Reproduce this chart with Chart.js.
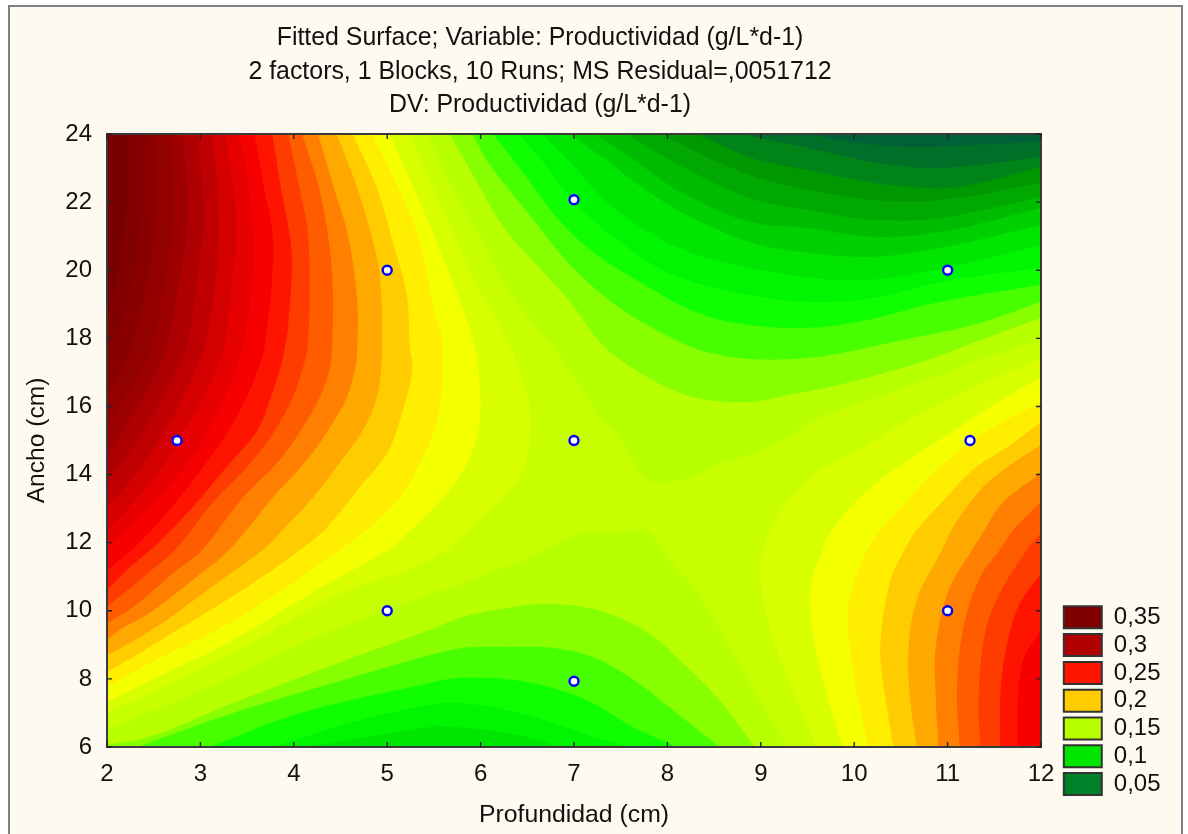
<!DOCTYPE html>
<html>
<head>
<meta charset="utf-8">
<title>Fitted Surface</title>
<script src="https://cdn.jsdelivr.net/npm/chart.js@4/dist/chart.umd.min.js"></script>
<style>
  html, body { margin: 0; padding: 0; background: #fff; overflow: hidden; }
  #frame { position: absolute; left: 8px; top: 5px; width: 1171px; height: 829px; background: #fffaf0;
           border-left: 2px solid #808080; border-top: 2px solid #808080; border-right: 2px solid #808080; }
  #chartOne { position: absolute; left: 0; top: 0; }
</style>
</head>
<body>
<div id="frame"></div>
<canvas id="chartOne" width="1188" height="834"></canvas>
<script>
const titleLines = [
  "Fitted Surface; Variable: Productividad (g/L*d-1)",
  "2 factors, 1 Blocks, 10 Runs; MS Residual=,0051712",
  "DV: Productividad (g/L*d-1)"
];
const xAxisTitle = "Profundidad (cm)";
const yAxisTitle = "Ancho (cm)";
const xTicks = [2, 3, 4, 5, 6, 7, 8, 9, 10, 11, 12];
const yTicks = [6, 8, 10, 12, 14, 16, 18, 20, 22, 24];

const legendLabels = ["0,35", "0,3", "0,25", "0,2", "0,15", "0,1", "0,05"];
const legendColors = ["#800000", "#b00000", "#ff1400", "#ffcc00", "#b8ff00", "#00e600", "#008028"];

// design points (Profundidad, Ancho)
const runsX = [2.75, 5, 5, 7, 7, 7, 11, 11, 11.24];
const runsY = [15, 10, 20, 7.93, 15, 22.07, 10, 20, 15];

// colour of the saddle band, the rest are painted on top of it
const saddleColor = "#c8ff00";
const highColors = ["#d8ff00", "#f4ff00", "#ffee00", "#ffcc00", "#ffa800", "#ff8000", "#ff5c00", "#ff3c00", "#ff1400",
  "#f60000", "#e60000", "#d40000", "#c00000", "#ae0000", "#9c0000", "#920000", "#8a0000", "#820000", "#780000"];
const lowColors = ["#b8ff00", "#88ff00", "#48ff00", "#10ff00", "#00f600", "#00e600", "#00d000", "#00bc00", "#00a800",
  "#009800", "#008418", "#007028", "#006038"];

// contour lines, [Profundidad, Ancho]
// top left hill, level 0,16 up to 0,34
const hl16 = [[5.24,24],[5.35,23.30],[5.67,21.33],[5.96,19.57],[6.31,17.80],[6.51,16.19],[6.53,15.40],[6.50,14.52],[6.35,13.64],[5.99,12.67],[5.46,11.49],[4.42,10.41],[3.35,8.76],[2,7]];
const hl17 = [[5.03,24],[5.35,22],[5.60,20.36],[5.92,17.95],[5.99,16.69],[5.99,15.60],[5.89,14.52],[5.67,13.55],[5.35,12.61],[5.14,12.08],[5.01,11.79],[4.25,10.61],[3.35,9.14],[2.64,8.17],[2,7.32]];
const hl18 = [[4.84,24],[5.14,22.30],[5.35,20.83],[5.49,18.98],[5.59,17.95],[5.59,16.69],[5.53,15.51],[5.35,14.34],[5.14,13.34],[4.78,12.37],[4.49,11.79],[3.93,10.70],[3.18,9.44],[2.46,8.47],[2,7.76]];
const hl19 = [[4.63,24],[4.89,22.41],[5.06,20.83],[5.21,19.28],[5.24,17.80],[5.27,17.07],[5.16,15.81],[5.00,14.63],[4.71,13.64],[4.36,12.46],[4.07,11.79],[3.50,10.70],[2.81,9.53],[2.35,8.76],[2,8.20]];
const hl20 = [[4.46,24],[4.68,22.41],[4.89,20.36],[4.94,19.07],[4.94,17.28],[4.89,16.28],[4.74,15.31],[4.49,14.34],[4.21,13.34],[3.88,12.37],[3.67,11.79],[3.18,10.82],[2.64,9.73],[2.25,9.06],[2,8.70]];
const hl21 = [[4.26,24],[4.42,22.50],[4.58,21.03],[4.68,19.07],[4.68,17.80],[4.66,17.16],[4.57,16.28],[4.39,15.40],[4.14,14.43],[3.78,13.34],[3.31,11.79],[2.92,10.91],[2.46,9.94],[2.14,9.44],[2,9.14]];
const hl22 = [[4.09,24],[4.28,22.30],[4.39,20.54],[4.42,19.18],[4.41,17.80],[4.39,17.16],[4.28,16.28],[4.10,15.40],[3.82,14.34],[3.46,13.34],[3.02,11.79],[2.71,11.11],[2.28,10.11],[2,9.64]];
const hl23 = [[3.94,24],[4.07,22.30],[4.15,21.12],[4.17,19.57],[4.15,17.80],[4.10,17.16],[3.99,16.28],[3.78,15.22],[3.50,14.22],[3.13,13.17],[2.73,11.79],[2.39,11.0],[2,10.11]];
const hl24 = [[3.77,24],[3.87,22.30],[3.96,20.95],[3.98,20.07],[3.94,18.39],[3.91,17.80],[3.87,17.28],[3.78,16.48],[3.61,15.31],[3.28,14.22],[2.92,13.05],[2.47,11.79],[2.25,11.29],[2,10.61]];
const hl25 = [[3.58,24],[3.67,22.59],[3.77,21.12],[3.77,19.86],[3.69,17.80],[3.64,17.28],[3.53,16.48],[3.35,15.51],[3.03,14.22],[2.67,12.96],[2.27,11.79],[2,11.20]];
const hl26 = [[3.42,24],[3.51,22.59],[3.56,21.24],[3.56,19.86],[3.46,17.80],[3.40,17.28],[3.30,16.48],[3.10,15.40],[2.86,14.34],[2.49,13.17],[2,11.87]];
const hl27 = [[3.27,24],[3.34,22.59],[3.39,21.33],[3.35,19.95],[3.26,17.80],[3.18,17.16],[3.03,16.28],[2.81,15.22],[2.57,14.13],[2.28,13.17],[2,12.37]];
const hl28 = [[3.12,24],[3.18,22.59],[3.20,21.33],[3.18,20.07],[3.05,17.80],[2.96,17.16],[2.81,16.28],[2.60,15.22],[2.32,14.05],[2,13.05]];
const hl29 = [[2.96,24],[3.02,22.59],[3.03,21.24],[2.97,19.86],[2.86,17.80],[2.75,17.16],[2.57,16.19],[2.35,15.10],[2,13.75]];
const hl30 = [[2.81,24],[2.86,22.41],[2.85,21.12],[2.78,19.86],[2.65,17.80],[2.54,17.07],[2.32,15.98],[2,14.52]];
const hl31 = [[2.67,24],[2.71,22.50],[2.70,21.33],[2.62,19.77],[2.48,17.80],[2.32,16.87],[2.14,16.10],[2,15.40]];
const hl32 = [[2.51,24],[2.54,22.59],[2.51,21.24],[2.44,19.77],[2.27,17.80],[2.11,16.87],[2,16.28]];
const hl33 = [[2.37,24],[2.39,22.59],[2.35,21.12],[2.25,19.36],[2.06,17.80],[2,17.36]];
const hl34 = [[2.22,24],[2.22,22.59],[2.17,20.83],[2,18.39]];

// bottom right hill, level 0,16 up to 0,25
const hr16 = [[12,17.42],[10.92,16.10],[10.09,14.81],[9.60,14.05],[9.24,13.05],[9.02,11.79],[8.99,11.0],[9.10,9.44],[9.31,7.88],[9.60,6]];
const hr17 = [[12,16.87],[11.45,15.98],[10.92,15.02],[10.38,14.05],[10.03,13.25],[9.71,12.17],[9.66,11.79],[9.53,10.70],[9.55,9.44],[9.67,7.88],[9.88,6]];
const hr18 = [[12,16.13],[11.38,15.22],[10.92,14.22],[10.57,13.25],[10.28,12.37],[10.14,11.79],[9.98,10.70],[9.93,9.73],[10.01,7.88],[10.15,6]];
const hr19 = [[12,15.54],[11.64,14.81],[11.27,14.14],[10.99,13.34],[10.67,12.37],[10.54,11.79],[10.38,10.82],[10.28,9.06],[10.31,7.88],[10.42,6]];
const hr20 = [[12,14.87],[11.64,14.22],[11.35,13.55],[11.06,12.46],[10.94,11.79],[10.67,10.32],[10.58,8.85],[10.60,7.38],[10.67,6]];
const hr21 = [[12,14.05],[11.59,13.17],[11.35,12.17],[11.26,11.79],[11.00,10.52],[10.87,8.85],[10.87,7.68],[10.90,6]];
const hr22 = [[12,13.20],[11.70,12.37],[11.56,11.79],[11.35,11.0],[11.17,9.53],[11.10,7.68],[11.13,6]];
const hr23 = [[12,12.29],[11.85,11.79],[11.56,10.52],[11.40,9.35],[11.33,7.38],[11.35,6]];
const hr24 = [[12,11.11],[11.74,10.02],[11.58,8.06],[11.56,6]];
const hr25 = [[12,9.44],[11.81,8.56],[11.75,7.29],[11.75,6]];

// top right hollow, level 0,15 down to 0,03
const tr15 = [[5.43,24],[5.67,22.59],[5.96,21.12],[6.35,19.18],[6.76,17.80],[6.96,16.98],[7.14,16.28],[7.28,15.69],[7.49,15.10],[7.79,13.84],[8.32,13.96],[8.46,14.22],[8.88,14.58],[9.24,15.02],[9.63,15.66],[10.49,16.48],[11.27,17.28],[12,17.95]];
const tr14 = [[5.67,24],[5.96,22.59],[6.23,21.33],[6.60,20.15],[6.96,19.07],[7.31,17.80],[7.78,16.87],[8.27,16.28],[8.88,16.13],[9.31,16.34],[9.92,16.69],[10.78,17.36],[11.35,17.95],[12,18.60]];
const tr13 = [[5.91,24],[6.10,23.09],[6.50,21.71],[6.96,20.15],[7.35,19.18],[7.78,18.39],[8.21,17.80],[8.42,17.60],[8.88,17.39],[9.50,17.42],[10.03,17.66],[10.52,17.95],[11.27,18.39],[12,19.07]];
const tr12 = [[6.13,24],[6.42,23.0],[6.82,21.53],[7.20,20.54],[7.81,19.48],[8.38,18.69],[8.88,18.39],[9.42,18.30],[10.03,18.48],[10.92,19.07],[12,19.57]];
const tr11 = [[6.40,24],[6.67,23.18],[7.03,21.92],[7.49,20.83],[8.06,19.86],[8.88,19.27],[9.50,19.07],[10.20,19.18],[10.92,19.65],[12,20.07]];
const tr10 = [[6.66,24],[6.96,23.18],[7.35,22],[7.85,21.03],[8.32,20.45],[8.88,20.07],[9.31,19.86],[9.85,19.71],[10.38,19.77],[10.99,20.07],[12,20.74]];
const tr09 = [[6.96,24],[7.31,23.30],[7.74,22.41],[8.21,21.62],[8.88,20.83],[9.50,20.51],[10.20,20.39],[10.92,20.65],[12,21.33]];
const tr08 = [[7.23,24],[7.67,23.18],[8.14,22.30],[8.88,21.42],[9.50,21.24],[10.20,20.98],[10.92,21.12],[12,21.83]];
const tr07 = [[7.57,24],[8.06,23.18],[8.88,22.12],[9.50,21.77],[10.20,21.48],[10.92,21.53],[12,22.15]];
const tr06 = [[7.95,24],[8.38,23.38],[8.88,22.80],[9.50,22.36],[10.20,22.06],[10.92,22.06],[12,22.56]];
const tr05 = [[8.32,24],[8.88,23.32],[9.50,22.94],[10.38,22.50],[11.10,22.44],[12,23.03]];
const tr04 = [[8.78,24],[9.50,23.59],[10.20,23.18],[10.92,23.0],[12,23.32]];
const tr03 = [[9.50,24],[10.03,23.74],[10.57,23.62],[11.27,23.68],[12,23.77]];

// bottom hollow, level 0,15 down to 0,10
const bt15 = [[2,6.50],[3.18,7.88],[4.42,9.44],[5.46,10.47],[6.45,11.49],[6.67,11.79],[7.14,12.31],[7.49,12.29],[7.79,12.37],[7.94,11.79],[8.32,10.52],[8.78,8.41],[8.92,7.68],[9.28,6]];
const bt14 = [[2,6.06],[2.46,6.30],[3.35,7.29],[4.42,8.41],[5.46,9.44],[5.81,9.82],[6.35,10.11],[6.78,10.20],[7.25,10.02],[7.78,9.38],[8.21,8.35],[8.56,7.38],[8.78,6.59],[8.94,6]];
const bt13 = [[2.32,6],[3.35,7],[4.42,7.88],[5.46,8.70],[5.81,8.91],[6.31,8.94],[6.78,8.91],[7.20,8.64],[7.67,7.91],[8.10,7],[8.56,6]];
const bt12 = [[3.10,6],[4.07,7],[5.46,7.88],[5.78,8.03],[6.35,7.97],[6.78,7.73],[7.20,7.29],[7.63,6.59],[8.11,6]];
const bt11 = [[3.78,6],[4.60,6.71],[5.46,7.24],[5.78,7.29],[6.28,7.09],[6.78,6.71],[7.20,6.30],[7.62,6]];
const bt10 = [[4.10,6],[4.78,6.30],[5.46,6.59],[5.57,6.62],[6.07,6.50],[6.53,6.27],[6.85,6]];

const xMin = xTicks[0], xMax = xTicks[xTicks.length - 1];
const yMin = yTicks[0], yMax = yTicks[yTicks.length - 1];

function band(line, color, corner) {
  let pts = line.map(p => ({x: p[0], y: p[1]}));
  if (corner) {
    // last point twice, so the curve does not bend towards the corner
    pts.push({x: pts[pts.length - 1].x, y: pts[pts.length - 1].y});
    pts.push({x: corner[0], y: corner[1]});
  }
  return {
    data: pts, showLine: true, fill: "shape", backgroundColor: color, tension: 0.35,
    borderWidth: 0, pointRadius: 0, pointHoverRadius: 0
  };
}

function buildDatasets() {
  let sets = [band([[xMin, yMin], [xMin, yMax], [xMax, yMax], [xMax, yMin]], saddleColor)];
  sets[0].tension = 0;
  [hl16, hl17, hl18, hl19, hl20, hl21, hl22, hl23, hl24, hl25, hl26, hl27, hl28, hl29, hl30, hl31, hl32, hl33, hl34]
    .forEach((l, i) => sets.push(band(l, highColors[i], [xMin, yMax])));
  [hr16, hr17, hr18, hr19, hr20, hr21, hr22, hr23, hr24, hr25]
    .forEach((l, i) => sets.push(band(l, highColors[i], [xMax, yMin])));
  [tr15, tr14, tr13, tr12, tr11, tr10, tr09, tr08, tr07, tr06, tr05, tr04, tr03]
    .forEach((l, i) => sets.push(band(l, lowColors[i], [xMax, yMax])));
  [bt15, bt14].forEach((l, i) => sets.push(band(l, lowColors[i], [xMin, yMin])));
  [bt13, bt12, bt11, bt10].forEach((l, i) => sets.push(band(l, lowColors[i + 2])));
  sets.forEach((s, i) => { s.order = sets.length - i; });
  sets.push({
    data: runsX.map((x, i) => ({x: x, y: runsY[i]})),
    showLine: false, order: -1, pointStyle: "circle", pointRadius: 4.5,
    pointBackgroundColor: "#fff", pointBorderColor: "#0000ff", pointBorderWidth: 2.4
  });
  return sets;
}

// frame and inward ticks on all four sides, legend and title moved to their places
const plotFrame = {
  id: "plotFrame",
  beforeDraw(chart) {
    chart.titleBlock.left = 0;
    chart.titleBlock.right = 1080;
    let lg = chart.legend;
    lg.left = 1060; lg.right = 1180; lg.top = 601.5; lg.bottom = 800;
  },
  afterDatasetsDraw(chart) {
    let ctx = chart.ctx, a = chart.chartArea;
    ctx.save();
    ctx.strokeStyle = "#3a3a3a";
    ctx.lineWidth = 2;
    ctx.strokeRect(a.left, a.top, a.right - a.left, a.bottom - a.top);
    ctx.strokeStyle = "#222";
    ctx.lineWidth = 1.4;
    ctx.beginPath();
    xTicks.forEach(v => {
      let x = chart.scales.x.getPixelForValue(v);
      ctx.moveTo(x, a.top); ctx.lineTo(x, a.top + 5);
      ctx.moveTo(x, a.bottom); ctx.lineTo(x, a.bottom - 5);
    });
    yTicks.forEach(v => {
      let y = chart.scales.y.getPixelForValue(v);
      ctx.moveTo(a.left, y); ctx.lineTo(a.left + 5, y);
      ctx.moveTo(a.right, y); ctx.lineTo(a.right - 5, y);
    });
    ctx.stroke();
    ctx.restore();
  }
};

const fontName = "'Liberation Sans', Arial, sans-serif";
Chart.defaults.color = "#111";

new Chart(document.getElementById("chartOne").getContext("2d"), {
  type: "scatter",
  data: {datasets: buildDatasets()},
  plugins: [plotFrame],
  options: {
    responsive: false,
    animation: false,
    events: [],
    layout: {padding: {left: 0, right: 147, top: 0, bottom: 0}},
    plugins: {
      tooltip: {enabled: false},
      title: {
        display: true,
        text: titleLines,
        color: "#111",
        padding: {top: 21.5, bottom: 12},
        font: {family: fontName, size: 24.9, weight: "normal", lineHeight: "33.5px"}
      },
      legend: {
        display: true,
        position: "chartArea",
        align: "start",
        labels: {
          boxWidth: 38,
          boxHeight: 22,
          padding: 3.8,
          color: "#111",
          font: {family: fontName, size: 24},
          generateLabels: () => legendLabels.map((t, i) => ({
            text: t, fillStyle: legendColors[i], strokeStyle: "#333", lineWidth: 2, fontColor: "#111"
          }))
        }
      }
    },
    scales: {
      x: {
        type: "linear",
        min: xMin,
        max: xMax,
        afterFit(s) { s.height = 87; },
        afterBuildTicks(s) { s.ticks = xTicks.map(v => ({value: v})); },
        grid: {display: false, drawTicks: false},
        border: {display: false},
        ticks: {padding: 13, maxRotation: 0, color: "#111", font: {family: fontName, size: 24}},
        title: {display: true, text: xAxisTitle, color: "#111", padding: {top: 0, bottom: 4},
          font: {family: fontName, size: 24.8}}
      },
      y: {
        type: "linear",
        min: yMin,
        max: yMax,
        afterFit(s) { s.width = 107; },
        afterBuildTicks(s) { s.ticks = yTicks.map(v => ({value: v})); },
        grid: {display: false, drawTicks: false},
        border: {display: false},
        ticks: {padding: 15, color: "#111", font: {family: fontName, size: 24}},
        title: {display: true, text: yAxisTitle, color: "#111", padding: {top: 22, bottom: 0},
          font: {family: fontName, size: 24.6}}
      }
    }
  }
});
</script>
</body>
</html>
